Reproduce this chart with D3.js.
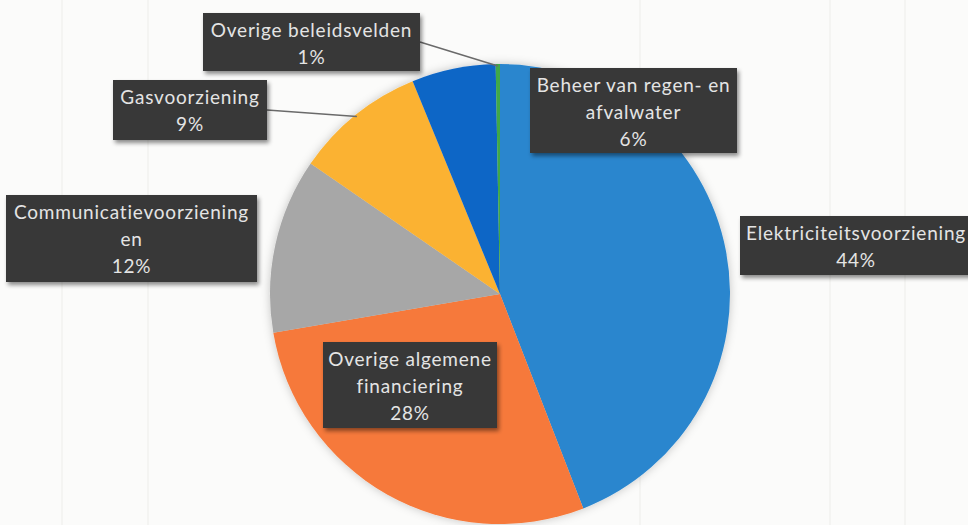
<!DOCTYPE html>
<html>
<head>
<meta charset="utf-8">
<script src="https://cdn.jsdelivr.net/npm/d3@7"></script>
<style>
  html, body { margin: 0; padding: 0; background: #fbfbfa; }
  svg { display: block; }
</style>
</head>
<body>
<div id="chart"></div>
<script>
// slices in clockwise order starting at 12 o'clock
var categories = [
  "Elektriciteitsvoorziening",
  "Overige algemene financiering",
  "Communicatievoorzieningen",
  "Gasvoorziening",
  "Beheer van regen- en afvalwater",
  "Overige beleidsvelden"
];
var values = [44.1, 28.2, 12.3, 9.2, 5.9, 0.3];
var pctLabels = ["44%", "28%", "12%", "9%", "6%", "1%"];
// how each data label wraps in the picture
var labelLines = [
  ["Elektriciteitsvoorziening"],
  ["Overige algemene", "financiering"],
  ["Communicatievoorziening", "en"],
  ["Gasvoorziening"],
  ["Beheer van regen- en", "afvalwater"],
  ["Overige beleidsvelden"]
];
var colors = ["#2b86ce", "#f6793a", "#a7a7a7", "#fbb233", "#1066c6", "#3fa84a"];

// label box placement (manually dragged labels, like in the original)
var labelBoxes = [
  { x: 740, y: 216, w: 232, h: 59, leader: false },
  { x: 323, y: 342, w: 174, h: 86, leader: false },
  { x: 6,   y: 195, w: 251, h: 87, leader: false },
  { x: 113, y: 80,  w: 154, h: 60, leader: true },
  { x: 530, y: 68,  w: 207, h: 85, leader: false },
  { x: 203, y: 13,  w: 217, h: 58, leader: true }
];

var width = 968, height = 525;
var cx = 500, cy = 294, radius = 230;

var svg = d3.select("#chart").append("svg")
  .attr("width", width).attr("height", height);

var defs = svg.append("defs");
var pieShadow = defs.append("filter").attr("id", "pieShadow")
  .attr("x", "-10%").attr("y", "-10%").attr("width", "120%").attr("height", "120%");
pieShadow.append("feDropShadow").attr("dx", 0).attr("dy", 0)
  .attr("stdDeviation", 5).attr("flood-color", "#000").attr("flood-opacity", 0.22);

var boxShadow = defs.append("filter").attr("id", "boxShadow")
  .attr("x", "-10%").attr("y", "-20%").attr("width", "125%").attr("height", "150%");
boxShadow.append("feDropShadow").attr("dx", 2).attr("dy", 3)
  .attr("stdDeviation", 2).attr("flood-color", "#000").attr("flood-opacity", 0.45);

// very faint ghost lines of the scanned page
var ghostX = [62, 148, 640, 830, 905];
svg.append("g").selectAll("line")
  .data(ghostX).enter().append("line")
  .attr("x1", function (d) { return d; }).attr("x2", function (d) { return d; })
  .attr("y1", 0).attr("y2", height)
  .attr("stroke", "#f4f4f2").attr("stroke-width", 2);

var pie = d3.pie().sort(null).value(function (d) { return d; });
var arcs = pie(values);

var arc = d3.arc().innerRadius(0).outerRadius(radius);
var edgeArc = d3.arc().innerRadius(radius - 2).outerRadius(radius - 2);

var g = svg.append("g").attr("transform", "translate(" + cx + "," + cy + ")");

g.append("g").attr("filter", "url(#pieShadow)")
  .selectAll("path")
  .data(arcs)
  .enter()
  .append("path")
  .attr("d", arc)
  .attr("fill", function (d, i) { return colors[i]; });

// leader lines
svg.append("g").selectAll("line")
  .data(arcs.filter(function (d, i) { return labelBoxes[i].leader; }))
  .enter()
  .append("line")
  .attr("x1", function (d) { return labelBoxes[d.index].x + labelBoxes[d.index].w; })
  .attr("y1", function (d) {
    var b = labelBoxes[d.index];
    return b.y + b.h / 2;
  })
  .attr("x2", function (d) { return cx + edgeArc.centroid(d)[0]; })
  .attr("y2", function (d) { return cy + edgeArc.centroid(d)[1]; })
  .attr("stroke", "#6a6a6a")
  .attr("stroke-width", 1.5);

// data label boxes
var labels = svg.append("g").selectAll("g")
  .data(arcs)
  .enter()
  .append("g")
  .attr("transform", function (d) {
    var b = labelBoxes[d.index];
    return "translate(" + b.x + "," + b.y + ")";
  });

labels.append("rect")
  .attr("width", function (d) { return labelBoxes[d.index].w; })
  .attr("height", function (d) { return labelBoxes[d.index].h; })
  .attr("fill", "#373737")
  .attr("filter", "url(#boxShadow)");

labels.append("text")
  .attr("font-family", "Lato, 'Open Sans', sans-serif")
  .attr("font-size", 19)
  .attr("letter-spacing", 0.8)
  .attr("fill", "#e4e4e4")
  .attr("text-anchor", "middle")
  .each(function (d) {
    var b = labelBoxes[d.index];
    var lines = labelLines[d.index].concat([pctLabels[d.index]]);
    var t = d3.select(this);
    lines.forEach(function (line, k) {
      t.append("tspan")
        .attr("x", b.w / 2)
        .attr("y", 24 + k * 27)
        .text(line);
    });
  });
</script>
</body>
</html>
